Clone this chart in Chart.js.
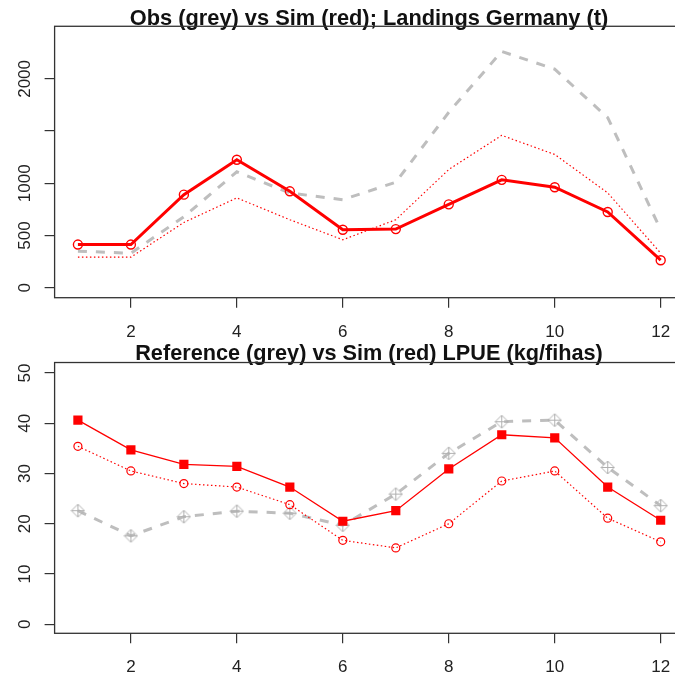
<!DOCTYPE html>
<html lang="en">
<head>
    <meta charset="UTF-8">
    <title>Landings / LPUE</title>
    <script src="https://cdn.jsdelivr.net/npm/chart.js"></script>
    <style>
        html, body { margin: 0; padding: 0; background: #fff; overflow: hidden; width: 675px; height: 680px; }
        .panel { position: absolute; left: 0; width: 738px; height: 340px; }
    </style>
</head>
<body>
    <div class="panel" style="top:0"><canvas id="landChart" width="738" height="340"></canvas></div>
    <div class="panel" style="top:340px"><canvas id="lpueChart" width="738" height="340"></canvas></div>

    <script>
        // months on the x axis
        const months = [1, 2, 3, 4, 5, 6, 7, 8, 9, 10, 11, 12];
        const xTicks = [2, 4, 6, 8, 10, 12];

        // landings Germany (t)
        const landObs    = [350, 330, 680, 1110, 907, 843, 1010, 1680, 2263, 2093, 1629, 555];
        const landSim    = [413, 413, 891, 1225, 923, 555, 561, 798, 1033, 962, 725, 263];
        const landSimLow = [292, 292, 625, 860, 651, 459, 651, 1132, 1459, 1276, 908, 331];
        const landYTicks  = [0, 500, 1000, 1500, 2000];
        const landYLabels = ['0', '500', '1000', '', '2000'];

        // LPUE (kg/fihas)
        const lpueRef    = [22.6, 17.6, 21.4, 22.5, 22.1, 19.7, 25.9, 34.0, 40.3, 40.6, 31.2, 23.6];
        const lpueSim    = [40.6, 34.7, 31.8, 31.4, 27.3, 20.5, 22.6, 30.9, 37.7, 37.1, 27.3, 20.7];
        const lpueSimLow = [35.4, 30.5, 28.0, 27.3, 23.8, 16.7, 15.2, 20.0, 28.5, 30.5, 21.1, 16.4];
        const lpueYTicks  = [0, 10, 20, 30, 40, 50];
        const lpueYLabels = ['0', '10', '20', '30', '40', '50'];

        const FONT = '"Liberation Sans", Arial, sans-serif';
        const GREY = '#bebebe';

        const pts = vals => months.map((m, i) => ({ x: m, y: vals[i] }));

        // pch 9 style marker: diamond with a plus inside
        function diamondPlus() {
            const c = document.createElement('canvas');
            c.width = 15; c.height = 15;
            const g = c.getContext('2d');
            g.strokeStyle = '#b0b0b0';
            g.lineWidth = 1;
            g.beginPath();
            g.moveTo(7.5, 1); g.lineTo(14, 7.5); g.lineTo(7.5, 14); g.lineTo(1, 7.5); g.closePath();
            g.moveTo(7.5, 1); g.lineTo(7.5, 14);
            g.moveTo(1, 7.5); g.lineTo(14, 7.5);
            g.stroke();
            return c;
        }

        // box round the plot region and rotated y labels, R style
        const rFrame = {
            id: 'rFrame',
            afterDraw(chart, args, opts) {
                const { ctx, chartArea: a } = chart;
                const ys = chart.scales.y;
                ctx.save();
                ctx.strokeStyle = '#333';
                ctx.lineWidth = 1.3;
                ctx.strokeRect(a.left, a.top, a.right - a.left, a.bottom - a.top);
                ctx.fillStyle = '#222';
                ctx.font = '17px ' + FONT;
                ctx.textAlign = 'center';
                ctx.textBaseline = 'alphabetic';
                opts.ticks.forEach((v, i) => {
                    const py = ys.getPixelForValue(v);
                    ctx.save();
                    ctx.translate(29.5, py);
                    ctx.rotate(-Math.PI / 2);
                    ctx.fillText(opts.labels[i], 0, 0);
                    ctx.restore();
                });
                ctx.restore();
            }
        };

        function makeChart(id, cfg) {
            return new Chart(document.getElementById(id), {
                type: 'line',
                data: { datasets: cfg.datasets },
                plugins: [rFrame],
                options: {
                    responsive: false,
                    devicePixelRatio: 1,
                    animation: false,
                    events: [],
                    // symmetric padding so the title centres over the plot region
                    layout: { padding: { left: 54, right: 54, top: 0, bottom: 0 } },
                    scales: {
                        x: {
                            type: 'linear',
                            min: 0.56,
                            max: 12.44,
                            afterBuildTicks: s => { s.ticks = xTicks.map(v => ({ value: v })); },
                            afterFit: s => { s.height = cfg.xHeight; },
                            border: { display: false },
                            grid: { drawOnChartArea: false, drawTicks: true, tickLength: 10, tickColor: '#333', lineWidth: 1.2 },
                            ticks: { color: '#222', font: { family: FONT, size: 17 }, padding: 14, maxRotation: 0 }
                        },
                        y: {
                            min: cfg.yMin,
                            max: cfg.yMax,
                            afterBuildTicks: s => { s.ticks = cfg.yTicks.map(v => ({ value: v })); },
                            afterFit: s => { s.width = 0.6; },
                            border: { display: false },
                            grid: { drawOnChartArea: false, drawTicks: true, tickLength: 10, tickColor: '#333', lineWidth: 1.2 },
                            ticks: { display: false }
                        }
                    },
                    plugins: {
                        legend: { display: false },
                        tooltip: { enabled: false },
                        title: {
                            display: true,
                            text: cfg.title,
                            color: '#111',
                            font: { family: FONT, size: cfg.titleSize, weight: 'bold', lineHeight: 0.6 },
                            padding: cfg.titlePad
                        },
                        rFrame: { ticks: cfg.yTicks, labels: cfg.yLabels }
                    }
                }
            });
        }

        makeChart('landChart', {
            title: 'Obs (grey) vs Sim (red); Landings Germany (t)',
            titleSize: 21.8,
            titlePad: { top: 12.2, bottom: 1.0 },
            xHeight: 42.3,
            yMin: -96, yMax: 2504,
            yTicks: landYTicks, yLabels: landYLabels,
            datasets: [
                {
                    label: 'Sim', data: pts(landSim), order: 1,
                    borderColor: 'red', borderWidth: 3, tension: 0,
                    pointStyle: 'circle', pointRadius: 4.5, pointBorderWidth: 1.4,
                    pointBorderColor: 'red', pointBackgroundColor: 'rgba(0,0,0,0)'
                },
                {
                    label: 'Sim low', data: pts(landSimLow), order: 2,
                    borderColor: 'red', borderWidth: 1.2, borderDash: [1.5, 2.5], tension: 0,
                    pointRadius: 0
                },
                {
                    label: 'Obs', data: pts(landObs), order: 3,
                    borderColor: GREY, borderWidth: 3, borderDash: [9, 9], tension: 0,
                    pointRadius: 0
                }
            ]
        });

        makeChart('lpueChart', {
            title: 'Reference (grey) vs Sim (red) LPUE (kg/fihas)',
            titleSize: 21.7,
            titlePad: { top: 7.9, bottom: 1.6 },
            xHeight: 46.7,
            yMin: -1.79, yMax: 52.07,
            yTicks: lpueYTicks, yLabels: lpueYLabels,
            datasets: [
                {
                    label: 'Sim', data: pts(lpueSim), order: 1,
                    borderColor: 'red', borderWidth: 1.3, tension: 0,
                    pointStyle: 'rect', pointRadius: 6.5, pointBorderWidth: 0,
                    pointBackgroundColor: 'red', pointBorderColor: 'red'
                },
                {
                    label: 'Sim low', data: pts(lpueSimLow), order: 2,
                    borderColor: 'red', borderWidth: 1.2, borderDash: [1.5, 2.5], tension: 0,
                    pointStyle: 'circle', pointRadius: 4, pointBorderWidth: 1.2,
                    pointBorderColor: 'red', pointBackgroundColor: 'rgba(0,0,0,0)'
                },
                {
                    label: 'Reference', data: pts(lpueRef), order: 3,
                    borderColor: GREY, borderWidth: 3, borderDash: [9, 9], tension: 0,
                    pointStyle: diamondPlus(), pointRadius: 7
                }
            ]
        });
    </script>
</body>
</html>
